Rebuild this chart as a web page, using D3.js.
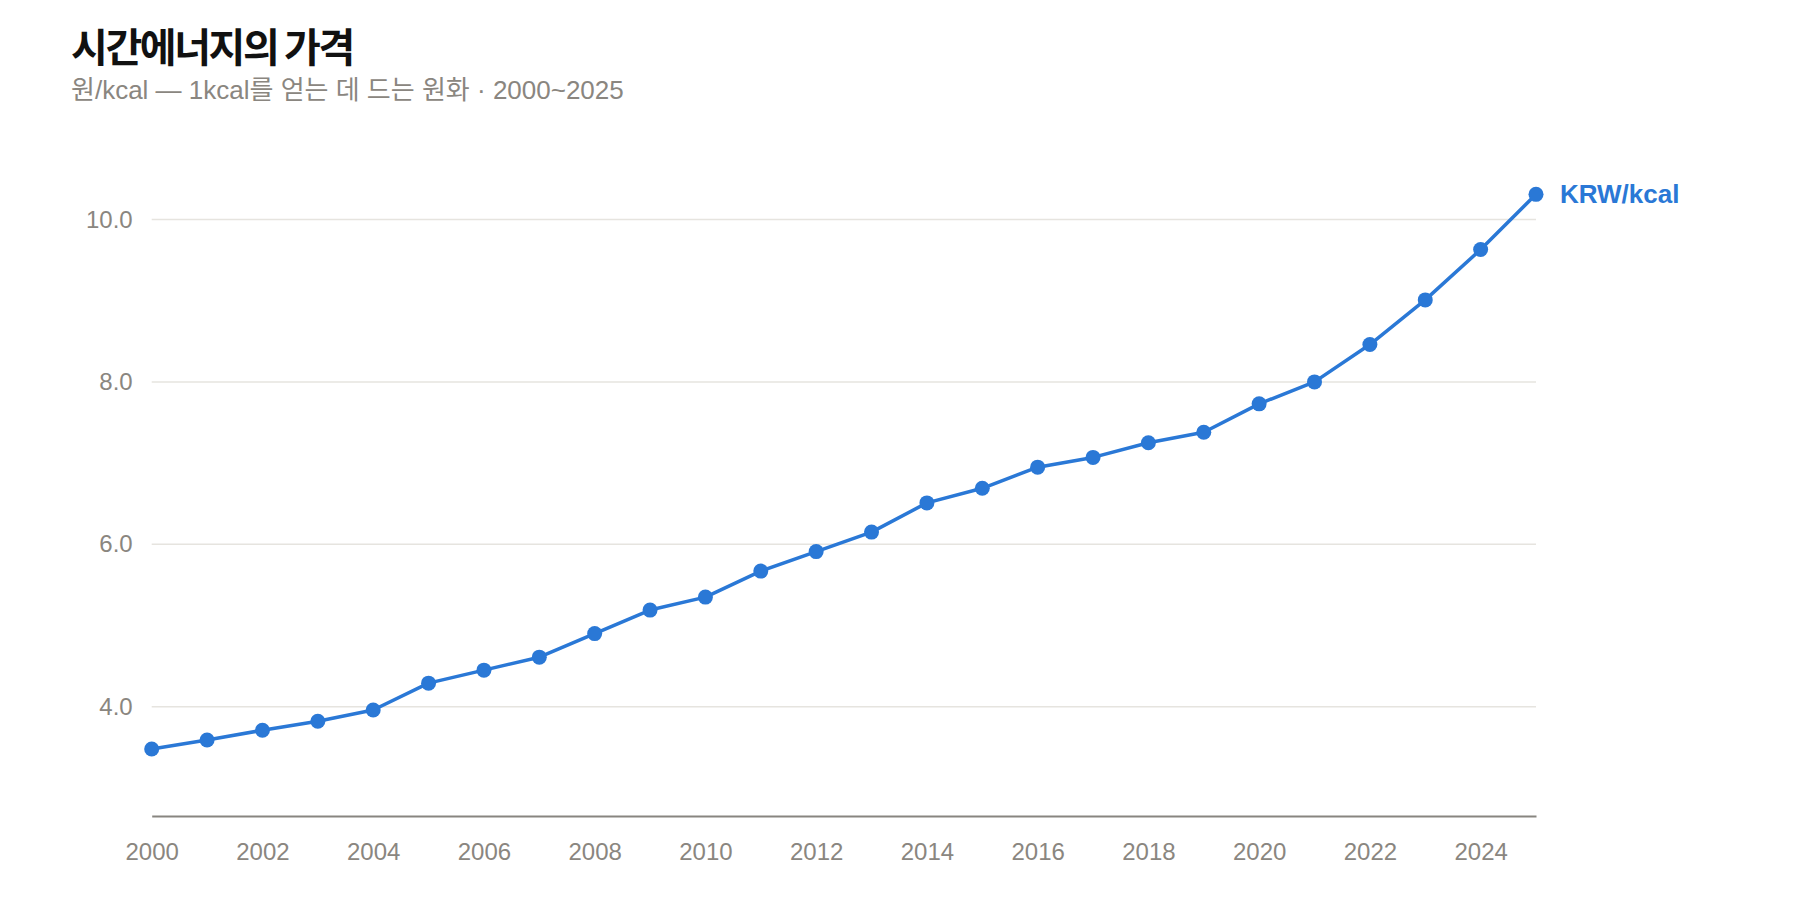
<!DOCTYPE html>
<html>
<head>
<meta charset="utf-8">
<script src="https://cdn.jsdelivr.net/npm/d3@7"></script>
<style>
  html, body { margin: 0; padding: 0; background: #ffffff; }
  svg { display: block; }
</style>
</head>
<body>
<svg id="chart" width="1800" height="920"></svg>
<script>
const years = [2000, 2001, 2002, 2003, 2004, 2005, 2006, 2007, 2008, 2009, 2010, 2011, 2012,
               2013, 2014, 2015, 2016, 2017, 2018, 2019, 2020, 2021, 2022, 2023, 2024, 2025];
const krwPerKcal = [3.48, 3.59, 3.71, 3.82, 3.96, 4.29, 4.45, 4.61, 4.90, 5.19, 5.35, 5.67, 5.91,
                    6.15, 6.51, 6.69, 6.95, 7.07, 7.25, 7.38, 7.73, 8.00, 8.46, 9.01, 9.63, 10.31];
const xTickYears = [2000, 2002, 2004, 2006, 2008, 2010, 2012, 2014, 2016, 2018, 2020, 2022, 2024];
const yTickValues = [4, 6, 8, 10];
const seriesLabel = "KRW/kcal";
const titleText = "시간에너지의 가격";
const subtitleText = "원/kcal — 1kcal를 얻는 데 드는 원화 · 2000~2025";

const data = years.map((y, i) => ({ year: y, value: krwPerKcal[i] }));

const svg = d3.select("#chart");
const latin = "'Liberation Sans', Arial, 'Noto Sans CJK KR', sans-serif";
const blue = "#2a78d6";
const grey = "#8a8680";

const x = d3.scaleLinear().domain([2000, 2025]).range([151.7, 1536]);
const y = d3.scaleLinear().domain([2.654, 10.6]).range([816, 816 - (10.6 - 2.654) * 81.2]);

// Title & subtitle
svg.append("text")
  .attr("x", 71).attr("y", 62)
  .attr("font-family", "'Noto Sans CJK KR', sans-serif")
  .attr("font-weight", 700)
  .attr("font-size", 40)
  .attr("letter-spacing", -2.4)
  .attr("fill", "#111111")
  .text(titleText);

svg.append("text")
  .attr("x", 71).attr("y", 99)
  .attr("font-family", latin)
  .attr("font-size", 26)
  .attr("fill", grey)
  .text(subtitleText);

// Gridlines
svg.append("g")
  .selectAll("line")
  .data(yTickValues)
  .join("line")
  .attr("x1", x(2000)).attr("x2", x(2025))
  .attr("y1", d => y(d)).attr("y2", d => y(d))
  .attr("stroke", "#e6e4df")
  .attr("stroke-width", 1.5);

// Y axis labels
const yAxis = d3.axisLeft(y).tickValues(yTickValues).tickFormat(d3.format(".1f")).tickSize(0).tickPadding(0);
const gy = svg.append("g").attr("transform", `translate(${x(2000) - 19},0)`).call(yAxis);
gy.select(".domain").remove();
gy.selectAll("text")
  .attr("font-family", latin)
  .attr("font-size", 24)
  .attr("fill", grey);

// X axis
const xAxis = d3.axisBottom(x).tickValues(xTickYears).tickFormat(d3.format("d")).tickSize(0).tickPadding(0);
const gx = svg.append("g").attr("transform", `translate(0,${y(2.654)})`).call(xAxis);
gx.select(".domain").attr("stroke", "#888580").attr("stroke-width", 2);
gx.selectAll("text")
  .attr("font-family", latin)
  .attr("font-size", 24)
  .attr("fill", grey)
  .attr("dy", null)
  .attr("y", 44);

// Line
const line = d3.line().x(d => x(d.year)).y(d => y(d.value));
svg.append("path")
  .datum(data)
  .attr("d", line)
  .attr("fill", "none")
  .attr("stroke", blue)
  .attr("stroke-width", 3.5)
  .attr("stroke-linejoin", "round");

// Points
svg.append("g")
  .selectAll("circle")
  .data(data)
  .join("circle")
  .attr("cx", d => x(d.year))
  .attr("cy", d => y(d.value))
  .attr("r", 7.5)
  .attr("fill", blue);

// End label
const last = data[data.length - 1];
svg.append("text")
  .attr("x", x(last.year) + 24)
  .attr("y", y(last.value))
  .attr("dy", "0.35em")
  .attr("font-family", latin)
  .attr("font-weight", 700)
  .attr("font-size", 26)
  .attr("fill", blue)
  .text(seriesLabel);
</script>
</body>
</html>
